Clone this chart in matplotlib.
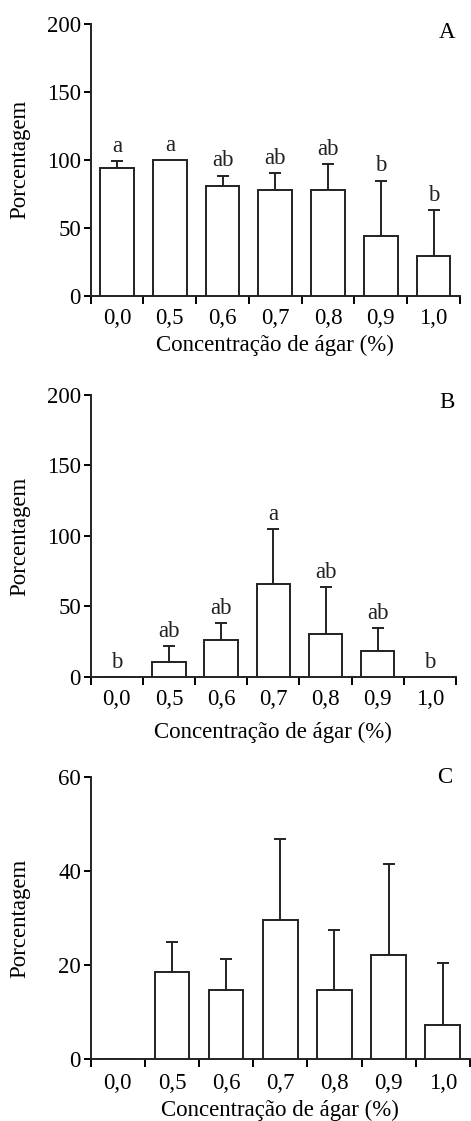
import numpy as np
import matplotlib.pyplot as plt

plt.rcParams['font.family'] = ['Liberation Serif', 'DejaVu Serif']

categorias = ['0,0', '0,5', '0,6', '0,7', '0,8', '0,9', '1,0']

media_a = [93.8, 100.0, 81.0, 77.6, 77.6, 44.1, 29.6]
erro_a = [5.0, 0.0, 7.4, 12.5, 19.0, 40.6, 33.4]
letras_a = ['a', 'a', 'ab', 'ab', 'ab', 'b', 'b']

media_b = [0.0, 10.4, 26.0, 66.0, 30.3, 18.2, 0.0]
erro_b = [0.0, 11.1, 11.9, 38.6, 33.6, 16.6, 0.0]
letras_b = ['b', 'ab', 'ab', 'a', 'ab', 'ab', 'b']

media_c = [0.0, 18.5, 14.8, 29.6, 14.8, 22.2, 7.2]
erro_c = [0.0, 6.4, 6.5, 17.2, 12.7, 19.3, 13.2]

# nome, medias, erros, letras, ymax, yticks, posicao, letra (x, y), labelpad x, pad ticks x
paineis = [
    ('A', media_a, erro_a, letras_a, 200, [0, 50, 100, 150, 200],
     [0.1926, 0.7362, 0.7840, 0.2424], (0.965, 0.97), 4, 9),
    ('B', media_b, erro_b, letras_b, 200, [0, 50, 100, 150, 200],
     [0.1926, 0.3963, 0.7757, 0.2513], (0.975, 0.975), 8, 9),
    ('C', media_c, erro_c, None, 60, [0, 20, 40, 60],
     [0.1926, 0.0553, 0.8050, 0.2513], (0.934, 1.0), 4.5, 10),
]

fs = 16.5
W, H = 471, 1121
fig = plt.figure(figsize=(W / 100, H / 100), dpi=100)
x = np.arange(len(categorias))

for nome, media, erro, letras, ymax, yticks, pos, lpos, xpad, tpad in paineis:
    ax = fig.add_axes(pos)
    ax.bar(x, media, width=0.64, color='white', edgecolor='#222222', linewidth=1.4, zorder=3)
    for xi, m, e in zip(x, media, erro):
        if e > 0:
            ax.errorbar(xi, m, yerr=[[0], [e]], fmt='none', ecolor='#222222',
                        elinewidth=1.4, capsize=4.3, capthick=1.4, zorder=2)
    if letras is not None:
        for xi, m, e, t in zip(x, media, erro, letras):
            ax.annotate(t, xy=(xi, m + e), xytext=(0, 3), textcoords='offset points',
                        ha='center', va='bottom', fontsize=fs, color='#222222')
    ax.set_xlim(-0.5, len(categorias) - 0.5)
    ax.set_ylim(0, ymax)
    ax.set_yticks(yticks)
    ax.set_xticks(x)
    ax.set_xticklabels(categorias)
    ax.set_xticks(np.arange(-0.5, len(categorias)), minor=True)
    ax.tick_params(axis='x', which='major', length=0, pad=tpad, labelsize=fs)
    ax.tick_params(axis='x', which='minor', length=5.5, width=1.4, direction='out')
    ax.tick_params(axis='y', length=5, width=1.4, direction='out', pad=2, labelsize=fs)
    for s in ['top', 'right']:
        ax.spines[s].set_visible(False)
    for s in ['left', 'bottom']:
        ax.spines[s].set_linewidth(1.4)
        ax.spines[s].set_color('#222222')
    ax.set_ylabel('Porcentagem', fontsize=fs)
    ax.yaxis.set_label_coords((30 - pos[0] * W) / (pos[2] * W), 0.5)
    ax.set_xlabel('Concentração de ágar (%)', fontsize=fs, labelpad=xpad)
    ax.text(lpos[0], lpos[1], nome, transform=ax.transAxes, ha='center', va='center', fontsize=fs)

fig.savefig('out.png', dpi=100)
